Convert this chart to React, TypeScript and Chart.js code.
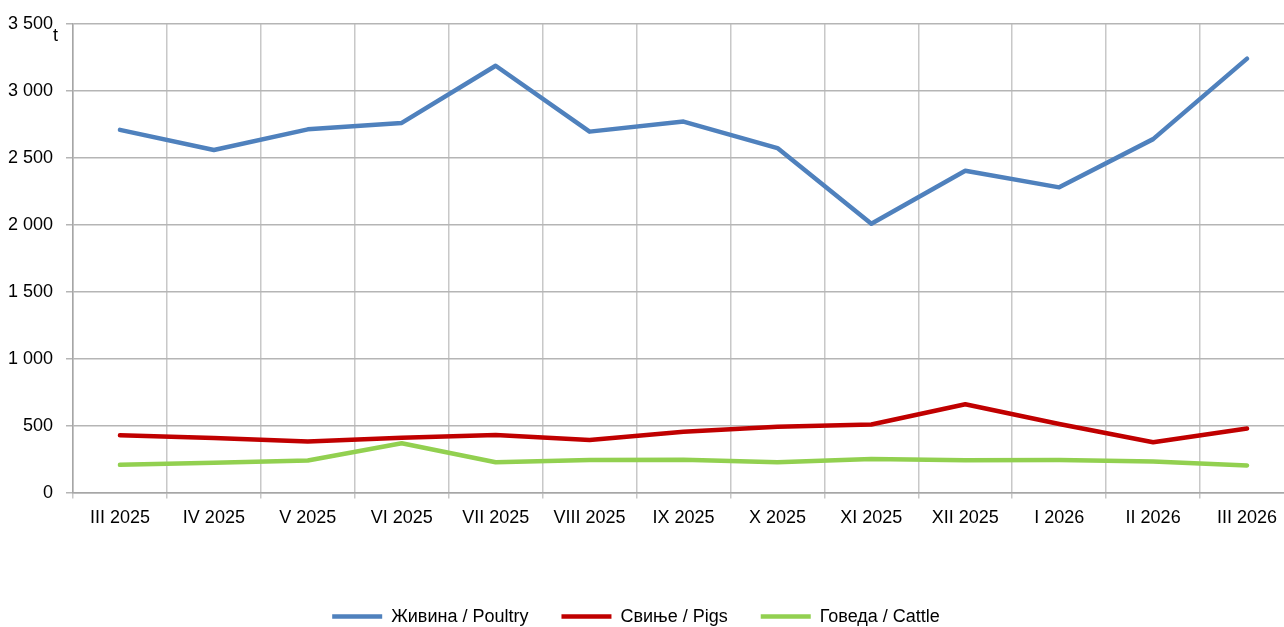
import React, { useEffect, useRef } from "react";
import { Chart, registerables } from "chart.js";

Chart.register(...registerables);

const categories = [
  "III 2025", "IV 2025", "V 2025", "VI 2025", "VII 2025", "VIII 2025", "IX 2025",
  "X 2025", "XI 2025", "XII 2025", "I 2026", "II 2026", "III 2026",
];
const poultry = [2708, 2558, 2712, 2760, 3187, 2695, 2770, 2572, 2007, 2403, 2279, 2639, 3240];
const pigs = [428, 408, 381, 410, 430, 393, 455, 492, 508, 660, 512, 376, 478];
const cattle = [207, 222, 240, 368, 226, 244, 246, 226, 251, 242, 243, 233, 203];
const seriesNames = ["Живина / Poultry", "Свиње / Pigs", "Говеда / Cattle"];
const unitLabel = "t";

const FONT = "'Liberation Sans', Arial, sans-serif";
const FS = 18;

const unitPlugin = {
  id: "unitLabel",
  afterDraw(chart: any) {
    const y = chart.scales.y;
    const ctx = chart.ctx;
    ctx.save();
    ctx.font = `${FS}px ${FONT}`;
    ctx.fillStyle = "#000";
    ctx.textAlign = "left";
    ctx.textBaseline = "alphabetic";
    ctx.fillText(unitLabel, 53, y.getPixelForValue(3500) + 17);
    ctx.restore();
  },
};

const legendShift = {
  id: "legendShift",
  afterLayout(chart: any) {
    const lg = chart.legend;
    if (lg) {
      lg.left -= 11;
      lg.right -= 11;
    }
  },
};

export default function App() {
  const ref = useRef<HTMLCanvasElement>(null);
  useEffect(() => {
    if (!ref.current) return;
    const mk = (label: string, data: number[], color: string) => ({
      label,
      data,
      borderColor: color,
      backgroundColor: color,
      borderWidth: 4.5,
      pointRadius: 0,
      pointHoverRadius: 0,
      tension: 0,
      borderCapStyle: "round" as const,
      borderJoinStyle: "round" as const,
      fill: false,
    });
    const chart = new Chart(ref.current, {
      type: "line",
      data: {
        labels: categories,
        datasets: [
          mk(seriesNames[0], poultry, "#4f81bd"),
          mk(seriesNames[1], pigs, "#c00000"),
          mk(seriesNames[2], cattle, "#92d050"),
        ],
      },
      options: {
        animation: false,
        responsive: false,
        maintainAspectRatio: false,
        layout: { padding: { top: 22, right: 6, left: 0, bottom: 4.4 } },
        plugins: {
          tooltip: { enabled: false },
          legend: {
            position: "bottom",
            labels: {
              usePointStyle: true,
              pointStyle: "line",
              pointStyleWidth: 50,
              padding: 33,
              color: "#000",
              font: { family: FONT, size: FS },
            },
          },
        },
        scales: {
          x: {
            offset: true,
            grid: {
              offset: true,
              color: "#c8c8c8",
              lineWidth: 1.5,
              tickLength: 6,
              drawTicks: true,
            },
            border: { color: "#a6a6a6", width: 1.5 },
            ticks: {
              color: "#000",
              font: { family: FONT, size: FS },
              padding: 9,
              maxRotation: 0,
              autoSkip: false,
            },
            afterFit(scale: any) {
              scale.height = 82;
            },
          },
          y: {
            min: 0,
            max: 3500,
            grid: {
              color: "#b5b5b5",
              lineWidth: 1.5,
              tickLength: 7,
              drawTicks: true,
            },
            border: { color: "#a6a6a6", width: 1.5 },
            ticks: {
              stepSize: 500,
              color: "#000",
              padding: 13,
              font: { family: FONT, size: FS },
              callback: (v: any) => String(v).replace(/\B(?=(\d{3})+(?!\d))/g, " "),
            },
            afterFit(scale: any) {
              scale.width = 73;
            },
          },
        },
      },
      plugins: [unitPlugin, legendShift],
    });
    return () => chart.destroy();
  }, []);
  return (
    <div style={{ position: "fixed", left: 0, top: 0, width: 1284, height: 627, overflow: "hidden", background: "#fff" }}>
      <canvas ref={ref} style={{ width: 1300, height: 640, display: "block" }} width={1300} height={640} />
    </div>
  );
}
